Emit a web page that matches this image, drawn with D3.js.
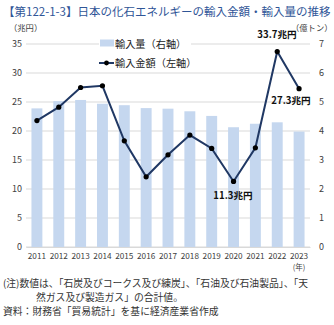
<!DOCTYPE html>
<html><head><meta charset="utf-8">
<script src="https://cdn.jsdelivr.net/npm/d3@7"></script>
<style>
body{margin:0;background:#fff;}
text{font-family:"Noto Sans CJK JP","Noto Sans",sans-serif;}
</style></head>
<body>
<svg id="c" width="334" height="325"></svg>
<script>
const years = ["2011","2012","2013","2014","2015","2016","2017","2018","2019","2020","2021","2022","2023"];
const volume = [4.78,5.03,5.07,4.94,4.89,4.79,4.77,4.68,4.52,4.13,4.25,4.30,3.98]; // 億トン (right axis)
const amount = [21.8,24.1,27.5,27.8,18.3,12.1,15.9,19.3,17.0,11.3,17.1,33.7,27.3]; // 兆円 (left axis)
const leftTicks = [0,5,10,15,20,25,30,35];
const rightTicks = [0,1,2,3,4,5,6,7];
const labels = [{i:11,text:"33.7兆円"},{i:12,text:"27.3兆円"},{i:9,text:"11.3兆円"}];
const title = "【第122-1-3】日本の化石エネルギーの輸入金額・輸入量の推移";
const notes = ["(注)数値は、「石炭及びコークス及び練炭」、「石油及び石油製品」、「天","然ガス及び製造ガス」の合計値。","資料：財務省「貿易統計」を基に経済産業省作成"];

const svg = d3.select("#c");
const L=26,R=310,T=44,B=247;
const x = d3.scaleBand().domain(years).range([L,R]).paddingInner(0.5).paddingOuter(0.25);
const yL = d3.scaleLinear().domain([0,35]).range([B,T]);
const yR = d3.scaleLinear().domain([0,7]).range([B,T]);

svg.append("text").attr("x",3).attr("y",16).attr("font-size",11.5).attr("fill","#2f5597").text(title);
svg.append("text").attr("x",9).attr("y",31).attr("font-size",8.3).attr("fill","#404040").text("（兆円）");
svg.append("text").attr("x",291).attr("y",31).attr("font-size",8.3).attr("fill","#404040").text("（億トン）");

// grid
svg.append("g").selectAll("line").data(leftTicks).join("line")
 .attr("x1",L).attr("x2",R).attr("y1",d=>yL(d)).attr("y2",d=>yL(d))
 .attr("stroke","#d9d9d9").attr("stroke-width",1);

// left axis
const gl = svg.append("g").attr("transform",`translate(${L},0)`)
 .call(d3.axisLeft(yL).tickValues(leftTicks).tickFormat(d3.format("d")).tickSize(0).tickPadding(4));
gl.select(".domain").remove();
gl.selectAll("text").attr("font-size",9).attr("fill","#404040").attr("font-family","Noto Sans CJK JP");

const gr = svg.append("g").attr("transform",`translate(${R},0)`)
 .call(d3.axisRight(yR).tickValues(rightTicks).tickFormat(d3.format("d")).tickSize(0).tickPadding(9));
gr.select(".domain").remove();
gr.selectAll("text").attr("font-size",9).attr("fill","#404040").attr("font-family","Noto Sans CJK JP");

// bars
svg.append("g").selectAll("rect").data(years).join("rect")
 .attr("x",d=>x(d)).attr("width",x.bandwidth())
 .attr("y",(d,i)=>yR(volume[i])).attr("height",(d,i)=>B-yR(volume[i]))
 .attr("fill","#c5d7ef");

// x axis
const gx = svg.append("g").attr("transform",`translate(0,${B})`)
 .call(d3.axisBottom(x).tickSize(0).tickPadding(6));
gx.select(".domain").attr("stroke","#d9d9d9");
gx.selectAll("text").attr("font-size",8.2).attr("fill","#404040").attr("font-family","Noto Sans CJK JP");
svg.append("text").attr("x",x("2023")+x.bandwidth()/2).attr("y",270).attr("text-anchor","middle")
 .attr("font-size",7.5).attr("fill","#404040").text("(年)");

// line
const cx = i=>x(years[i])+x.bandwidth()/2;
svg.append("path").datum(amount)
 .attr("d",d3.line().x((d,i)=>cx(i)).y(d=>yL(d)))
 .attr("fill","none").attr("stroke","#203864").attr("stroke-width",2);
svg.append("g").selectAll("circle").data(amount).join("circle")
 .attr("cx",(d,i)=>cx(i)).attr("cy",d=>yL(d)).attr("r",2.6).attr("fill","#000");

// legend
const lg = svg.append("g");
lg.append("rect").attr("x",99).attr("y",36).attr("width",92).attr("height",14).attr("fill","#fff");
lg.append("rect").attr("x",100).attr("y",39.5).attr("width",14).attr("height",7).attr("fill","#c5d7ef");
lg.append("text").attr("x",115).attr("y",47.5).attr("font-size",10.2).attr("fill","#222").text("輸入量（右軸）");
lg.append("line").attr("x1",99).attr("x2",114).attr("y1",63).attr("y2",63).attr("stroke","#203864").attr("stroke-width",2);
lg.append("circle").attr("cx",106.5).attr("cy",63).attr("r",2.4).attr("fill","#000");
lg.append("text").attr("x",115).attr("y",67).attr("font-size",10.2).attr("fill","#222").text("輸入金額（左軸）");

// labels
const lp = {11:[277,38],12:[291,104],9:[233,199]};
svg.append("g").selectAll("text").data(labels).join("text")
 .attr("x",d=>lp[d.i][0]).attr("y",d=>lp[d.i][1]).attr("text-anchor","middle")
 .attr("font-size",9.6).attr("font-weight","bold").attr("fill","#111").text(d=>d.text);

// notes
svg.append("text").attr("x",3).attr("y",287).attr("font-size",9.8).attr("fill","#333").text(notes[0]);
svg.append("text").attr("x",36).attr("y",301).attr("font-size",9.8).attr("fill","#333").text(notes[1]);
svg.append("text").attr("x",3).attr("y",315).attr("font-size",9.8).attr("fill","#333").text(notes[2]);
</script>
</body></html>
